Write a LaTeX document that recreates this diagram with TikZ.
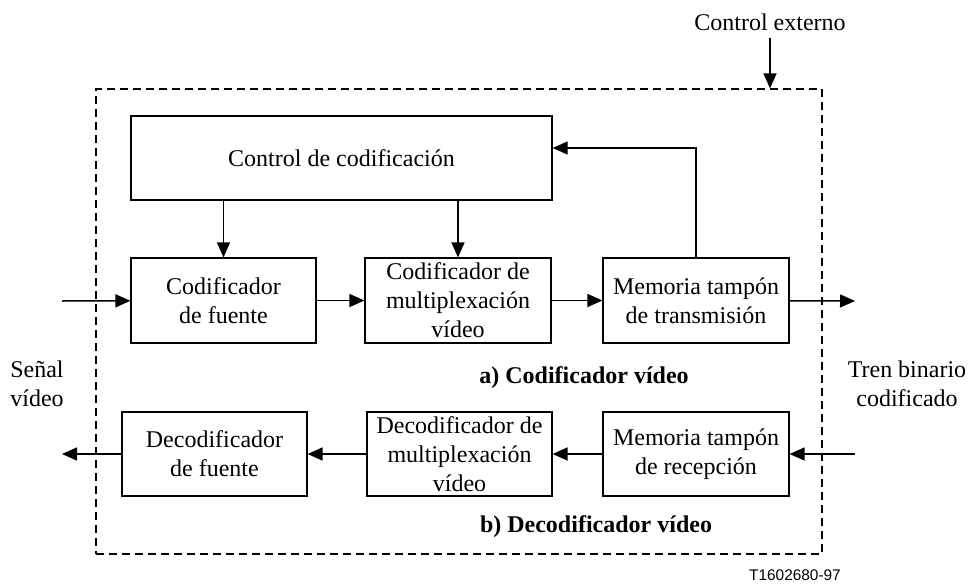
\documentclass[tikz,border=0pt]{standalone}
\usepackage{fontspec}
\setmainfont{Liberation Serif}
\newfontfamily\tagfont{Liberation Sans}
\usetikzlibrary{arrows.meta}
\tikzset{
  blk/.style={draw, line width=0.6pt, minimum width=92.5pt, minimum height=42.5pt,
    inner sep=0pt, align=center},
  frm/.style={draw, dashed, dash pattern=on 4pt off 2.5pt, line width=0.6pt,
    minimum width=363pt, minimum height=232.5pt, inner sep=0pt},
  lbl/.style={align=center},
  ttl/.style={font=\fontsize{12}{14.5}\selectfont\bfseries},
}
\begin{document}
\begin{tikzpicture}[x=0.5pt, y=-0.5pt, font=\fontsize{12}{14.5}\selectfont]
  \useasboundingbox (0,0) rectangle (968,583);
  \draw
    (459,321.5) node[frm] (frame){}
    (770,22) node[lbl] (ext){Control externo}
    (341.5,158) node[blk, minimum width=210.5pt, minimum height=42pt] (ctrl){Control de codificación}
    (223.5,300.5) node[blk] (codfu){Codificador\\de fuente}
    (458,300.5) node[blk, minimum width=93pt] (codmux){Codificador de\\multiplexación\\vídeo}
    (696,300.5) node[blk, minimum width=93pt] (memtx){Memoria tampón\\de transmisión}
    (214.5,454) node[blk, minimum height=42pt] (decfu){Decodificador\\de fuente}
    (459.5,454) node[blk, minimum height=42pt] (decmux){Decodificador de\\multiplexación\\vídeo}
    (696,454) node[blk, minimum width=93pt, minimum height=42pt] (memrx){Memoria tampón\\de recepción}
    (37,383.5) node[lbl] (senal){Señal\\vídeo}
    (907,383.5) node[lbl] (tren){Tren binario\\codificado}
    (584,378) node[ttl] (capa){a) Codificador vídeo}
    (596,527) node[ttl] (capb){b) Decodificador vídeo}
    (795,575) node[font=\tagfont\fontsize{7.7}{9}\selectfont] (tag){T1602680-97};
  \coordinate (sin) at (62,301);
  \coordinate (sout) at (855,301);
  \coordinate (rin) at (855,454);
  \coordinate (rout) at (62,454);
  \begin{scope}[-{Triangle[length=7.5pt,width=6.5pt]}, line width=0.75pt]
    \draw (ext.south) -- (ext.south |- frame.north);
    \draw (ctrl.south -| codfu.north) -- (codfu.north);
    \draw (ctrl.south -| codmux.north) -- (codmux.north);
    \draw[line width=0.6pt] (memtx.north) |- ([yshift=5pt]ctrl.east);
    \draw (sin) -- (codfu);
    \draw (codfu) -- (codmux);
    \draw (codmux) -- (memtx);
    \draw (memtx) -- (sout);
    \draw (rin) -- (memrx);
    \draw (memrx) -- (decmux);
    \draw (decmux) -- (decfu);
    \draw (decfu) -- (rout);
  \end{scope}
\end{tikzpicture}
\end{document}
